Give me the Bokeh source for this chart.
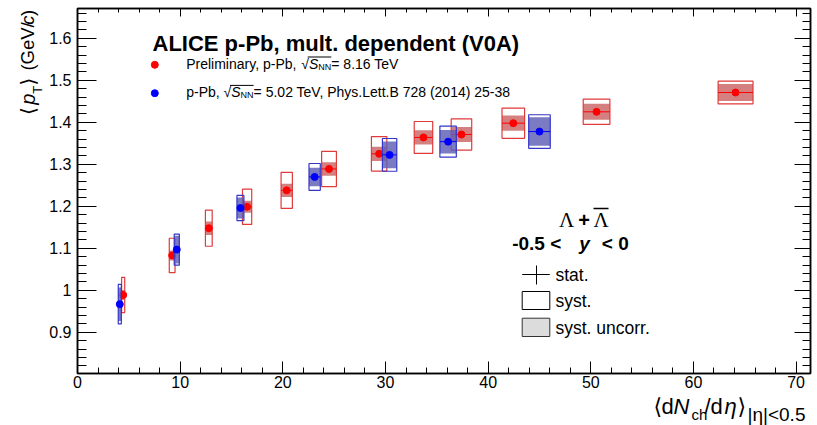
import numpy as np
from bokeh.plotting import figure
from bokeh.layouts import column, row
from bokeh.models import (Range1d, LinearAxis, SingleIntervalTicker, CustomJSTickFormatter,
                          Label, ColumnDataSource)
from bokeh.embed import file_html
from bokeh.resources import INLINE

# ---------------- data ----------------
# ALICE p-Pb 8.16 TeV (preliminary)
red_x = [4.45, 9.22, 12.79, 16.52, 20.38, 24.5, 29.38, 33.7, 37.4, 42.45, 50.56, 64.1]
red_y = [0.989, 1.083, 1.148, 1.199, 1.238, 1.289, 1.325, 1.364, 1.371, 1.398, 1.425, 1.471]
red_xerr = [0.15, 0.28, 0.33, 0.45, 0.55, 0.72, 0.75, 0.9, 1.0, 1.1, 1.3, 1.7]
red_syst = [0.042, 0.041, 0.043, 0.042, 0.043, 0.042, 0.041, 0.038, 0.037, 0.036, 0.030, 0.027]
red_uncorr = [0.012, 0.012, 0.016, 0.014, 0.016, 0.016, 0.017, 0.017, 0.018, 0.018, 0.019, 0.020]

# p-Pb 5.02 TeV, PLB 728 (2014) 25-38
blue_x = [4.12, 9.67, 15.87, 23.1, 30.4, 36.1, 45.0]
blue_y = [0.967, 1.097, 1.196, 1.270, 1.3225, 1.354, 1.378]
blue_xerr = [0.15, 0.25, 0.34, 0.55, 0.7, 0.8, 1.05]
blue_syst = [0.047, 0.037, 0.030, 0.032, 0.039, 0.037, 0.040]
blue_uncorr = [0.040, 0.033, 0.025, 0.022, 0.032, 0.028, 0.034]

x_ticks_major = 10
y_ticks_major = 0.1

# ---------------- layout ----------------
W, H = 817, 425
LEFT_W = 44            # strip holding the y-axis title
MAIN_H = 394           # main plot height (bottom strip holds the x-axis title)
FL, FR, FT, FB = 77, 810, 8, 373   # frame box in page pixels
X0, X1 = 0.0, 71.4
Y0, Y1 = 0.802, 1.671
TXT_SHIFT = 5.0        # Label baseline correction (pixels)

RED = "#ff0000"
RED_BOX = "#e03a3a"
RED_UNC = "#cf7272"
BLUE = "#0000ff"
BLUE_BOX = "#3535c8"
BLUE_UNC = "#5e5eb6"
FONT = "Liberation Sans"

p = figure(width=W - LEFT_W, height=MAIN_H, x_range=Range1d(X0, X1), y_range=Range1d(Y0, Y1),
           output_backend="svg", toolbar_location=None,
           min_border_left=FL - LEFT_W, min_border_right=W - FR,
           min_border_top=FT, min_border_bottom=MAIN_H - FB)
p.grid.visible = False
p.outline_line_color = "black"
p.outline_line_width = 1.5
p.background_fill_color = "white"
p.border_fill_color = "white"


def dx(px):
    return X0 + (px - FL) * (X1 - X0) / (FR - FL)


def dy(py):
    return Y0 + (FB - py) * (Y1 - Y0) / (FB - FT)


def style_axis(ax, major_in, minor_in, labels=True):
    ax.major_tick_in = major_in
    ax.major_tick_out = 0
    ax.minor_tick_in = minor_in
    ax.minor_tick_out = 0
    ax.axis_line_color = "black"
    ax.axis_line_width = 1.5
    ax.major_tick_line_color = "black"
    ax.minor_tick_line_color = "black"
    ax.major_tick_line_width = 1
    ax.minor_tick_line_width = 1
    ax.major_label_text_font = FONT
    ax.major_label_text_color = "black"
    if labels:
        ax.major_label_text_font_size = "16px"
    else:
        ax.formatter = CustomJSTickFormatter(code="return '';")
        ax.major_label_text_font_size = "1px"
        ax.major_label_standoff = 0


fmt = CustomJSTickFormatter(code="return (Math.round(tick*10)/10).toString();")

xa = p.xaxis[0]
xa.ticker = SingleIntervalTicker(interval=x_ticks_major, num_minor_ticks=5)
xa.formatter = fmt
style_axis(xa, 12, 6)
xa.major_label_standoff = 2

ya = p.yaxis[0]
ya.ticker = SingleIntervalTicker(interval=y_ticks_major, num_minor_ticks=5)
ya.formatter = fmt
style_axis(ya, 19, 9)
ya.major_label_standoff = 6

top = LinearAxis(ticker=SingleIntervalTicker(interval=x_ticks_major, num_minor_ticks=5))
style_axis(top, 8, 4, labels=False)
p.add_layout(top, "above")

right = LinearAxis(ticker=SingleIntervalTicker(interval=y_ticks_major, num_minor_ticks=5))
style_axis(right, 16, 8, labels=False)
p.add_layout(right, "right")


# ---------------- data marks ----------------
def make_src(x, y, xe, sy, un):
    x = np.array(x); y = np.array(y); xe = np.array(xe)
    sy = np.array(sy); un = np.array(un)
    return ColumnDataSource(dict(x=x, y=y, l=x - xe, r=x + xe,
                                 sb=y - sy, st=y + sy, ub=y - un, ut=y + un))


rs = make_src(red_x, red_y, red_xerr, red_syst, red_uncorr)
bs = make_src(blue_x, blue_y, blue_xerr, blue_syst, blue_uncorr)

for src, c, cb, cu, ua in ((rs, RED, RED_BOX, RED_UNC, 0.9), (bs, BLUE, BLUE_BOX, BLUE_UNC, 0.82)):
    p.quad(left="l", right="r", bottom="ub", top="ut", source=src,
           fill_color=cu, fill_alpha=ua, line_color=None)
    p.quad(left="l", right="r", bottom="sb", top="st", source=src,
           fill_color=None, line_color=cb, line_width=1.2)
    p.segment(x0="l", x1="r", y0="y", y1="y", source=src, line_color=c, line_width=1)
    p.scatter("x", "y", source=src, size=7, color=c, marker="circle")


# ---------------- texts inside the frame ----------------
def label(fig, x, y, text, size, font=FONT, style="normal", align="left", angle=0.0, color="black"):
    fig.add_layout(Label(x=x, y=y, text=text, text_font=font,
                         text_font_size=f"{size}px", text_font_style=style,
                         text_align=align, text_baseline="alphabetic",
                         angle=angle, text_color=color))


def mlabel(px, py, text, size, **kw):
    label(p, dx(px), dy(py - TXT_SHIFT), text, size, **kw)


def hline(px0, px1, py, width=1.0):
    p.segment(x0=[dx(px0)], x1=[dx(px1)], y0=[dy(py)], y1=[dy(py)],
              line_color="black", line_width=width)


# title
mlabel(152, 48.3, "ALICE p-Pb, mult. dependent (V0A)", 22, style="bold")

# legend for the two data sets
p.scatter([dx(154.3)], [dy(64.3)], size=7, color=RED)
p.scatter([dx(154.3)], [dy(92.7)], size=7, color=BLUE)

b1, y1 = 185.7, 68.3
mlabel(b1, y1, "Preliminary, p-Pb, ", 14)
mlabel(b1 + 115.1, y1, "\u221a", 14)
mlabel(b1 + 122.8, y1, "S", 14, style="italic")
mlabel(b1 + 132.1, y1 + 3, "NN", 9)
mlabel(b1 + 145.1, y1, "= 8.16 TeV", 14)
hline(b1 + 121.5, b1 + 145.1, y1 - 11.8)

b2, y2 = 185.7, 96.7
mlabel(b2, y2, "p-Pb, ", 14)
mlabel(b2 + 37.4, y2, "\u221a", 14)
mlabel(b2 + 45.1, y2, "S", 14, style="italic")
mlabel(b2 + 54.4, y2 + 3, "NN", 9)
mlabel(b2 + 67.4, y2, "= 5.02 TeV, Phys.Lett.B 728 (2014) 25-38", 14)
hline(b2 + 43.8, b2 + 67.4, y2 - 11.8)

# particle / rapidity
mlabel(566, 224.5, "\u039b", 21, font="Liberation Serif", align="center")
mlabel(583.5, 224.5, "+", 20, style="bold", align="center")
mlabel(600.5, 224.5, "\u039b", 21, font="Liberation Serif", align="center")
hline(593, 608, 208, 1.5)

mlabel(511.7, 248.3, "-0.5 <", 19, style="bold")
mlabel(584, 248.3, "y", 19, style="bold italic", align="center")
mlabel(628.3, 248.3, "< 0", 19, style="bold", align="right")

# uncertainty legend
hline(521.7, 549.3, 274)
p.segment(x0=[dx(536)], x1=[dx(536)], y0=[dy(265)], y1=[dy(284)], line_color="black", line_width=1)
p.quad(left=[dx(521.7)], right=[dx(549.3)], top=[dy(291)], bottom=[dy(309)],
       fill_color=None, line_color="black", line_width=1)
p.quad(left=[dx(521.7)], right=[dx(549.3)], top=[dy(317.7)], bottom=[dy(336)],
       fill_color="#dcdcdc", line_color="#333333", line_width=1)
mlabel(555, 279.5, "stat.", 17.5)
mlabel(555, 305.5, "syst.", 17.5)
mlabel(555, 332, "syst. uncorr.", 17.5)


# ---------------- axis titles in their own strips ----------------
def strip(w, h):
    f = figure(width=w, height=h, x_range=Range1d(0, w), y_range=Range1d(0, h),
               output_backend="svg", toolbar_location=None,
               x_axis_type=None, y_axis_type=None,
               min_border=0, min_border_left=0, min_border_right=0,
               min_border_top=0, min_border_bottom=0)
    f.outline_line_color = None
    f.grid.visible = False
    f.background_fill_color = "white"
    f.border_fill_color = "white"
    return f


# y-axis title (rotated, reads bottom to top); strip covers page x 0..44, y 0..394
ls = strip(LEFT_W, MAIN_H)


def ylab(px, py, text, size, **kw):
    label(ls, px - TXT_SHIFT, MAIN_H - py, text, size, angle=np.pi / 2, **kw)


ylab(32, 115, "\u27e8", 20, font="DejaVu Sans")
ylab(32, 104, "p", 20, style="italic")
ylab(42, 92, "T", 13)
ylab(32, 83, "\u27e9", 20, font="DejaVu Sans")
ylab(32, 67, "(GeV/", 18.5)
ylab(32, 17.5, "c", 18.5, style="italic")
ylab(32, 8, ")", 18.5)

# x-axis title; strip covers page x 0..817, y 394..425
BH = H - MAIN_H
bs_fig = strip(W, BH)


def xlab(px, py, text, size, **kw):
    label(bs_fig, px, H - (py - TXT_SHIFT), text, size, **kw)


xlab(653, 411, "\u27e8", 22, font="DejaVu Sans")
xlab(661, 411, "d", 22)
xlab(673, 411, "N", 22, style="italic")
xlab(691, 418.5, "ch", 15)
xlab(704, 411, "/d", 22)
xlab(724, 411, "\u03b7", 22, style="italic")
xlab(737, 411, "\u27e9", 22, font="DejaVu Sans")
xlab(747, 419, "|\u03b7|<0.5", 19)

layout = column(row(ls, p, spacing=0), bs_fig, spacing=0)
open("out.html", "w").write(file_html(layout, INLINE))
